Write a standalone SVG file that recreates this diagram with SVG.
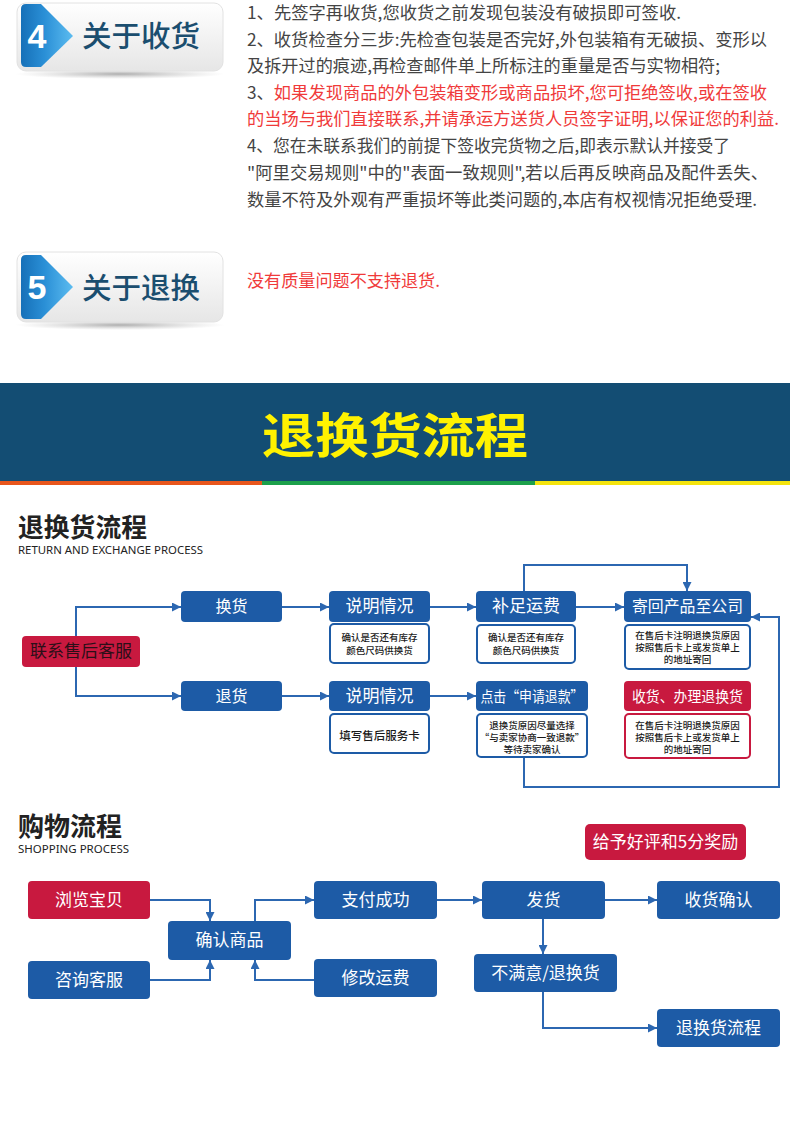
<svg xmlns="http://www.w3.org/2000/svg" width="790" height="1126" viewBox="0 0 790 1126">
<style>
text{font-family:"Noto Sans CJK SC","Noto Sans",sans-serif}
.body{font-size:17px;fill:#444}
.red{fill:#f03a3a}
.bt{font-size:29px;fill:#1b4e6f;font-weight:500}
.num{font-family:"Liberation Sans",Arial,sans-serif;font-size:34px;font-weight:bold;fill:#fff;text-anchor:middle}
.nb{fill:#1d5ba6}
.nr{fill:#c8193f}
.wb{fill:#fff;stroke:#1d5ba6;stroke-width:2}
.wr{fill:#fff;stroke:#c8193f;stroke-width:2}
.t{fill:#fff;text-anchor:middle;font-size:17px}
.s{fill:#1a1a1a;text-anchor:middle;font-size:9.5px;font-weight:500}
.h{font-size:26px;font-weight:bold;fill:#222}
.sub{font-family:"Noto Sans","Open Sans",sans-serif;font-size:11px;fill:#222}
.c{fill:none;stroke:#2c67b1;stroke-width:2}
</style>
<defs>
<linearGradient id="bgG" x1="0" y1="0" x2="0" y2="1">
<stop offset="0" stop-color="#ffffff"/><stop offset="1" stop-color="#e6e6e6"/>
</linearGradient>
<linearGradient id="blG" x1="0" y1="0" x2="1" y2="0">
<stop offset="0" stop-color="#1670b8"/><stop offset="0.45" stop-color="#2a8fd6"/><stop offset="1" stop-color="#5cbcf0"/>
</linearGradient>
<radialGradient id="shG" cx="0.5" cy="0.5" r="0.5">
<stop offset="0" stop-color="#9a9a9a" stop-opacity="0.8"/><stop offset="1" stop-color="#bbbbbb" stop-opacity="0"/>
</radialGradient>
<marker id="ar" viewBox="0 0 10 10" refX="10" refY="5" markerWidth="9" markerHeight="9" markerUnits="userSpaceOnUse" orient="auto">
<path d="M0,0 L10,5 L0,10 z" fill="#2c67b1"/>
</marker>
</defs>
<rect width="790" height="1126" fill="#fff"/>

<g id="badge4">
<ellipse cx="120" cy="74" rx="105" ry="5" fill="url(#shG)"/>
<rect x="17" y="3" width="206" height="68" rx="9" fill="url(#bgG)" stroke="#e2e2e2" stroke-width="1"/>
<path d="M26,4 H41 L73,36 L41,67 H26 Q21,67 21,62 V9 Q21,4 26,4 Z" fill="url(#blG)"/>
<text class="num" x="37" y="48">4</text>
<text class="bt" x="82" y="47" textLength="118" lengthAdjust="spacingAndGlyphs">关于收货</text>
</g>

<g id="text4">
<text class="body" x="247" y="19" textLength="434" lengthAdjust="spacingAndGlyphs">1、先签字再收货,您收货之前发现包装没有破损即可签收.</text>
<text class="body" x="247" y="46" textLength="520" lengthAdjust="spacingAndGlyphs">2、收货检查分三步:先检查包装是否完好,外包装箱有无破损、变形以</text>
<text class="body" x="247" y="72" textLength="473" lengthAdjust="spacingAndGlyphs">及拆开过的痕迹,再检查邮件单上所标注的重量是否与实物相符;</text>
<text class="body" x="247" y="99" textLength="520" lengthAdjust="spacingAndGlyphs">3、<tspan class="red">如果发现商品的外包装箱变形或商品损坏,您可拒绝签收,或在签收</tspan></text>
<text class="body red" x="247" y="125" textLength="532" lengthAdjust="spacingAndGlyphs">的当场与我们直接联系,并请承运方送货人员签字证明,以保证您的利益.</text>
<text class="body" x="247" y="152" textLength="483" lengthAdjust="spacingAndGlyphs">4、您在未联系我们的前提下签收完货物之后,即表示默认并接受了</text>
<text class="body" x="247" y="179" textLength="521" lengthAdjust="spacingAndGlyphs">"阿里交易规则"中的"表面一致规则",若以后再反映商品及配件丢失、</text>
<text class="body" x="247" y="206" textLength="510" lengthAdjust="spacingAndGlyphs">数量不符及外观有严重损坏等此类问题的,本店有权视情况拒绝受理.</text>
</g>

<g id="badge5">
<ellipse cx="120" cy="325" rx="105" ry="5" fill="url(#shG)"/>
<rect x="17" y="252" width="206" height="70" rx="9" fill="url(#bgG)" stroke="#e2e2e2" stroke-width="1"/>
<path d="M26,255 H41 L73,287 L41,319 H26 Q21,319 21,314 V260 Q21,255 26,255 Z" fill="url(#blG)"/>
<text class="num" x="37" y="299">5</text>
<text class="bt" x="82" y="299" textLength="118" lengthAdjust="spacingAndGlyphs">关于退换</text>
</g>
<g id="text5">
<text class="body red" x="247" y="287" textLength="193" lengthAdjust="spacingAndGlyphs">没有质量问题不支持退货.</text>
</g>

<g id="banner">
<rect x="0" y="383" width="790" height="98" fill="#134d73"/>
<rect x="0" y="481" width="262" height="4" fill="#e8561c"/>
<rect x="262" y="481" width="273" height="4" fill="#1ca04b"/>
<rect x="535" y="481" width="255" height="4" fill="#f4e40e"/>
<text x="262" y="453" font-size="48" font-weight="bold" fill="#fff200" textLength="266" lengthAdjust="spacingAndGlyphs">退换货流程</text>
</g>

<g id="heading1">
<text class="h" x="18" y="537" textLength="129" lengthAdjust="spacingAndGlyphs">退换货流程</text>
<text class="sub" x="18" y="554" textLength="185" lengthAdjust="spacingAndGlyphs">RETURN AND EXCHANGE PROCESS</text>
</g>

<g id="connectors">
<path class="c" d="M76,636 V607 H181" marker-end="url(#ar)"/>
<path class="c" d="M76,667 V696 H181" marker-end="url(#ar)"/>
<path class="c" d="M282,607 H329" marker-end="url(#ar)"/>
<path class="c" d="M282,696 H329" marker-end="url(#ar)"/>
<path class="c" d="M430,607 H476" marker-end="url(#ar)"/>
<path class="c" d="M430,696 H476" marker-end="url(#ar)"/>
<path class="c" d="M576,607 H624" marker-end="url(#ar)"/>
<path class="c" d="M524,591 V565 H687 V591" marker-end="url(#ar)"/>
<path class="c" d="M524,757 V787 H779 V617 H751" marker-end="url(#ar)"/>
<path class="c" d="M150,900 H210 V921" marker-end="url(#ar)"/>
<path class="c" d="M150,980 H210 V960" marker-end="url(#ar)"/>
<path class="c" d="M255,921 V900 H314" marker-end="url(#ar)"/>
<path class="c" d="M314,980 H255 V960" marker-end="url(#ar)"/>
<path class="c" d="M437,900 H482" marker-end="url(#ar)"/>
<path class="c" d="M605,900 H657" marker-end="url(#ar)"/>
<path class="c" d="M543,919 V954" marker-end="url(#ar)"/>
<path class="c" d="M543,992 V1028 H657" marker-end="url(#ar)"/>
</g>

<g id="n-contact">
<rect class="nr" x="22" y="636" width="118" height="31" rx="4"/>
<text class="t" x="81" y="657" style="fill:#2b0f18">联系售后客服</text>
</g>
<g id="n-exchange">
<rect class="nb" x="181" y="591" width="101" height="31" rx="4"/>
<text class="t" x="231.5" y="612" style="font-size:16px">换货</text>
</g>
<g id="n-return">
<rect class="nb" x="181" y="681" width="101" height="30" rx="4"/>
<text class="t" x="231.5" y="702" style="font-size:16px">退货</text>
</g>
<g id="n-explain1">
<rect class="nb" x="329" y="591" width="101" height="31" rx="4"/>
<text class="t" x="379.5" y="612">说明情况</text>
<rect class="wb" x="330" y="624" width="99" height="39" rx="4"/>
<text class="s" x="379.5" y="641">确认是否还有库存</text>
<text class="s" x="379.5" y="654">颜色尺码供换货</text>
</g>
<g id="n-explain2">
<rect class="nb" x="329" y="681" width="101" height="30" rx="4"/>
<text class="t" x="379.5" y="702">说明情况</text>
<rect class="wb" x="330" y="714" width="99" height="39" rx="4"/>
<text class="s" x="379.5" y="740" style="font-size:11.5px">填写售后服务卡</text>
</g>
<g id="n-freight">
<rect class="nb" x="476" y="591" width="100" height="31" rx="4"/>
<text class="t" x="526" y="612">补足运费</text>
<rect class="wb" x="477" y="625" width="98" height="38" rx="4"/>
<text class="s" x="526" y="641">确认是否还有库存</text>
<text class="s" x="526" y="654">颜色尺码供换货</text>
</g>
<g id="n-sendback">
<rect class="nb" x="624" y="591" width="127" height="31" rx="4"/>
<text class="t" x="687.5" y="612" style="font-size:16px" textLength="111" lengthAdjust="spacingAndGlyphs">寄回产品至公司</text>
<rect class="wb" x="625" y="625" width="125" height="44" rx="4"/>
<text class="s" x="687.5" y="639">在售后卡注明退换货原因</text>
<text class="s" x="687.5" y="651">按照售后卡上或发货单上</text>
<text class="s" x="687.5" y="663">的地址寄回</text>
</g>
<g id="n-refund">
<rect class="nb" x="476" y="681" width="112" height="30" rx="4"/>
<text class="t" x="532" y="702" style="font-size:15px" textLength="103" lengthAdjust="spacingAndGlyphs">点击“申请退款”</text>
<rect class="wb" x="477" y="714" width="110" height="43" rx="4"/>
<text class="s" x="532" y="729">退换货原因尽量选择</text>
<text class="s" x="532" y="741">“与卖家协商一致退款”</text>
<text class="s" x="532" y="753">等待卖家确认</text>
</g>
<g id="n-receive">
<rect class="nr" x="624" y="681" width="127" height="30" rx="4"/>
<text class="t" x="687.5" y="702" style="font-size:15px" textLength="111" lengthAdjust="spacingAndGlyphs">收货、办理退换货</text>
<rect class="wr" x="625" y="714" width="125" height="44" rx="4"/>
<text class="s" x="687.5" y="729">在售后卡注明退换货原因</text>
<text class="s" x="687.5" y="741">按照售后卡上或发货单上</text>
<text class="s" x="687.5" y="753">的地址寄回</text>
</g>

<g id="heading2">
<text class="h" x="18" y="836" textLength="104" lengthAdjust="spacingAndGlyphs">购物流程</text>
<text class="sub" x="18" y="853" textLength="111" lengthAdjust="spacingAndGlyphs">SHOPPING PROCESS</text>
</g>

<g id="s-browse">
<rect class="nr" x="28" y="881" width="122" height="38" rx="4"/>
<text class="t" x="89" y="906">浏览宝贝</text>
</g>
<g id="s-consult">
<rect class="nb" x="28" y="961" width="122" height="38" rx="4"/>
<text class="t" x="89" y="986">咨询客服</text>
</g>
<g id="s-confirm">
<rect class="nb" x="168" y="921" width="123" height="39" rx="4"/>
<text class="t" x="229.5" y="946">确认商品</text>
</g>
<g id="s-pay">
<rect class="nb" x="314" y="881" width="123" height="38" rx="4"/>
<text class="t" x="375.5" y="906">支付成功</text>
</g>
<g id="s-modify">
<rect class="nb" x="314" y="959" width="123" height="38" rx="4"/>
<text class="t" x="375.5" y="984">修改运费</text>
</g>
<g id="s-ship">
<rect class="nb" x="482" y="881" width="123" height="38" rx="4"/>
<text class="t" x="543.5" y="906">发货</text>
</g>
<g id="s-receipt">
<rect class="nb" x="657" y="881" width="123" height="38" rx="4"/>
<text class="t" x="718.5" y="906">收货确认</text>
</g>
<g id="s-unsatisfied">
<rect class="nb" x="474" y="954" width="143" height="38" rx="4"/>
<text class="t" x="545.5" y="979">不满意/退换货</text>
</g>
<g id="s-returnflow">
<rect class="nb" x="657" y="1009" width="123" height="38" rx="4"/>
<text class="t" x="718.5" y="1034">退换货流程</text>
</g>
<g id="s-reward">
<rect class="nr" x="585" y="824" width="161" height="36" rx="5"/>
<text class="t" x="665.5" y="848">给予好评和5分奖励</text>
</g>
</svg>
